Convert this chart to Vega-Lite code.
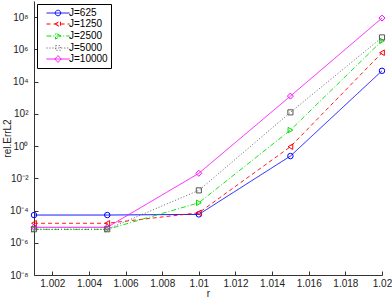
{
  "$schema": "https://vega.github.io/schema/vega-lite/v6.json",
  "width": 348,
  "height": 274,
  "autosize": "none",
  "padding": {"left": 34, "top": 1, "right": 10, "bottom": 23},
  "background": "white",
  "config": {
    "view": {"stroke": null},
    "font": "Liberation Sans",
    "axis": {"grid": false, "domainColor": "#333", "tickColor": "#333", "labelColor": "#222", "titleColor": "#222", "labelFont": "Liberation Sans", "titleFont": "Liberation Sans", "titleFontWeight": "normal", "labelFontSize": 10, "titleFontSize": 10}
  },
  "data": {
    "values": [
      {"r": 1.001, "J": "J=625", "err": 5.25e-5},
      {"r": 1.005, "J": "J=625", "err": 5.25e-5},
      {"r": 1.01, "J": "J=625", "err": 5.75e-5},
      {"r": 1.015, "J": "J=625", "err": 0.24},
      {"r": 1.02, "J": "J=625", "err": 46800},
      {"r": 1.001, "J": "J=1250", "err": 1.62e-5},
      {"r": 1.005, "J": "J=1250", "err": 1.62e-5},
      {"r": 1.01, "J": "J=1250", "err": 7.24e-5},
      {"r": 1.015, "J": "J=1250", "err": 0.912},
      {"r": 1.02, "J": "J=1250", "err": 616600},
      {"r": 1.001, "J": "J=2500", "err": 6.76e-6},
      {"r": 1.005, "J": "J=2500", "err": 6.76e-6},
      {"r": 1.01, "J": "J=2500", "err": 3.02e-4},
      {"r": 1.015, "J": "J=2500", "err": 9.77},
      {"r": 1.02, "J": "J=2500", "err": 3390000},
      {"r": 1.001, "J": "J=5000", "err": 6.9e-6},
      {"r": 1.005, "J": "J=5000", "err": 6.9e-6},
      {"r": 1.01, "J": "J=5000", "err": 1.78e-3},
      {"r": 1.015, "J": "J=5000", "err": 123},
      {"r": 1.02, "J": "J=5000", "err": 5500000},
      {"r": 1.001, "J": "J=10000", "err": 9.12e-6},
      {"r": 1.005, "J": "J=10000", "err": 9.12e-6},
      {"r": 1.01, "J": "J=10000", "err": 0.0204},
      {"r": 1.015, "J": "J=10000", "err": 1259},
      {"r": 1.02, "J": "J=10000", "err": 87000000}
    ]
  },
  "encoding": {
    "x": {
      "field": "r", "type": "quantitative",
      "scale": {"domain": [1.001, 1.02], "nice": false, "zero": false},
      "axis": {"title": "r", "values": [1.002, 1.004, 1.006, 1.008, 1.01, 1.012, 1.014, 1.016, 1.018, 1.02], "format": ".3~f", "tickSize": -4, "labelPadding": 7, "titlePadding": 0, "labelFlush": false}
    },
    "y": {
      "field": "err", "type": "quantitative",
      "scale": {"type": "log", "domain": [1e-8, 1e9], "nice": false},
      "axis": {"title": "rel.ErrL2", "values": [1e-8, 1e-6, 1e-4, 1e-2, 1, 100, 10000, 1000000, 100000000], "tickSize": -4, "labelPadding": 10, "titleX": -22, "labelFlush": false,
        "labelExpr": "'10' + replace(replace(replace(replace(replace(replace(toString(round(log(datum.value)/LN10)),'-','⁻'),'0','⁰'),'2','²'),'4','⁴'),'6','⁶'),'8','⁸')"}
    }
  },
  "layer": [
    {
      "transform": [{"filter": "datum.r > 5"}],
      "mark": {"type": "point", "filled": false, "strokeWidth": 1, "opacity": 1},
      "encoding": {
        "color": {"field": "J", "type": "nominal",
          "scale": {"domain": ["J=625", "J=1250", "J=2500", "J=5000", "J=10000"], "range": ["#0000ff", "#ff0000", "#00e000", "#555555", "#ff00ff"]},
          "legend": {"title": null, "orient": "none", "legendX": 3, "legendY": 3, "symbolSize": 121, "labelFontSize": 10, "labelFont": "Liberation Sans", "labelColor": "#000", "strokeColor": "#000", "fillColor": "white", "padding": 3, "rowPadding": 0, "symbolStrokeWidth": 1, "symbolOffset": 0, "labelOffset": 17}},
        "shape": {"field": "J", "type": "nominal",
          "scale": {"domain": ["J=625", "J=1250", "J=2500", "J=5000", "J=10000"],
            "range": [
              "M0.09,0H4.28M2.68,0A0.5,0.5 0 1,1 1.68,0A0.5,0.5 0 1,1 2.68,0Z",
              "M0.09,0H0.82M1.37,0H2.1M2.65,0H3.38M3.93,0H4.28M1.63,0L2.63,-0.55L2.63,0.55Z",
              "M0.09,0H0.99M1.35,0H1.53M1.89,0H2.79M3.15,0H3.33M3.69,0H4.28M2.73,0L1.73,-0.55L1.73,0.55Z",
              "M0.09,0H0.27M0.63,0H0.81M1.17,0H1.35M1.71,0H1.89M2.25,0H2.43M2.79,0H2.97M3.33,0H3.51M3.87,0H4.05M1.76,-0.42H2.6V0.42H1.76Z",
              "M0.09,0H4.28M2.18,-0.6L2.78,0L2.18,0.6L1.58,0Z"
            ]},
          "legend": {"title": null}}
      }
    },
    {
      "mark": {"type": "line", "strokeWidth": 0.9},
      "encoding": {
        "color": {"field": "J", "type": "nominal", "legend": null},
        "strokeDash": {"field": "J", "type": "nominal", "scale": {"domain": ["J=625", "J=1250", "J=2500", "J=5000", "J=10000"], "range": [[1, 0], [4, 3], [5, 2, 1, 2], [1, 2], [1, 0]]}, "legend": null}
      }
    },
    {
      "transform": [{"filter": "datum.J == 'J=625'"}],
      "mark": {"type": "point", "shape": "circle", "filled": false, "size": 30, "strokeWidth": 1, "opacity": 1},
      "encoding": {"color": {"field": "J", "type": "nominal", "legend": null}}
    },
    {
      "transform": [{"filter": "datum.J == 'J=1250'"}],
      "mark": {"type": "point", "shape": "triangle-left", "filled": false, "size": 30, "strokeWidth": 1, "opacity": 1},
      "encoding": {"color": {"field": "J", "type": "nominal", "legend": null}}
    },
    {
      "transform": [{"filter": "datum.J == 'J=2500'"}],
      "mark": {"type": "point", "shape": "triangle-right", "filled": false, "size": 30, "strokeWidth": 1, "opacity": 1},
      "encoding": {"color": {"field": "J", "type": "nominal", "legend": null}}
    },
    {
      "transform": [{"filter": "datum.J == 'J=5000'"}],
      "mark": {"type": "point", "shape": "square", "filled": false, "size": 26, "strokeWidth": 1, "opacity": 1},
      "encoding": {"color": {"field": "J", "type": "nominal", "legend": null}}
    },
    {
      "transform": [{"filter": "datum.J == 'J=10000'"}],
      "mark": {"type": "point", "shape": "diamond", "filled": false, "size": 36, "strokeWidth": 1, "opacity": 1},
      "encoding": {"color": {"field": "J", "type": "nominal", "legend": null}}
    }
  ]
}
